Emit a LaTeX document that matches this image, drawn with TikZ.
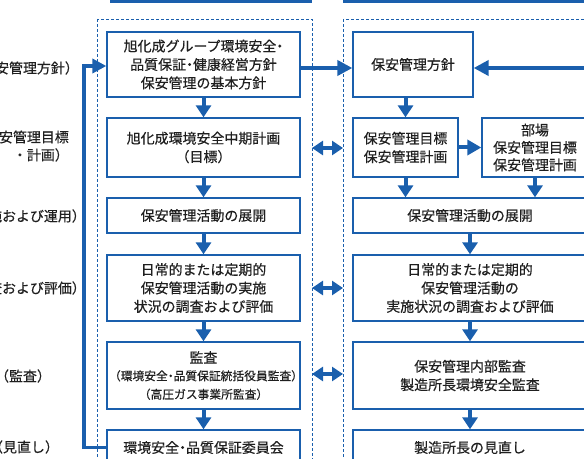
\documentclass[tikz,border=0pt]{standalone}
\usepackage{fontspec}
\newfontfamily\jp[FakeBold=0.4]{Noto Sans CJK JP}
\newfontfamily\jpp[FakeBold=0.4,RawFeature=+palt]{Noto Sans CJK JP}
\newcommand{\pdot}{{\jpp ・}}
\usetikzlibrary{arrows.meta}
\definecolor{bblue}{HTML}{1A5FAD}
\tikzset{
  box/.style={draw=bblue, line width=1.3bp, fill=white, align=center, inner sep=0pt,
    font=\jp\fontsize{14}{18.5}\selectfont, text=black!88},
  lbl/.style={inner sep=0pt, font=\jp\fontsize{14}{18.5}\selectfont, text=black!88},
  flow/.style={draw=bblue, line width=4bp, -{Triangle[length=12bp,width=15bp]}, shorten <=0.6bp},
  harrow/.style={draw=bblue, line width=4bp, -{Triangle[length=15bp,width=15bp]}},
  darrow/.style={draw=bblue, line width=4bp, {Triangle[length=11bp,width=14bp]}-{Triangle[length=11bp,width=14bp]}},
  col/.style={draw=bblue, line width=0.8bp, dash pattern=on 3bp off 2bp},
}
\begin{document}
\begin{tikzpicture}[x=1bp,y=-1bp]
\useasboundingbox (0,0) rectangle (584,459);
\clip (0,0) rectangle (584,459);
% header bars
\fill[bblue] (110,-2) rectangle (312,3);
\fill[bblue] (343,-2) rectangle (600,3);
% column outlines
\draw[col] (97,19) rectangle (312,480);
\draw[col] (343,19) rectangle (620,480);
% left labels
\node[lbl] (l1) at (23,68) {（保安管理方針）};
\node[lbl, align=right, anchor=east, font=\jp\fontsize{14}{18}\selectfont] (l2) at (69,146) {（保安管理目標\\・計画）};
\node[lbl] (l3) at (23,216) {（実施および運用）};
\node[lbl] (l4) at (23,288) {（調査および評価）};
\node[lbl] (l5) at (23,376) {（監査）};
\node[lbl] (l6) at (24,447) {（見直し）};
% left column boxes
\node[box, minimum width=193bp, minimum height=65bp] (b1) at (203.5,64.5) {旭化成グループ環境安全\pdot\\品質保証\pdot 健康経営方針\\保安管理の基本方針};
\node[box, minimum width=193bp, minimum height=59bp] (b2) at (203.5,147.5) {旭化成環境安全中期計画\\（目標）};
\node[box, minimum width=193bp, minimum height=35bp] (b3) at (203.5,215.5) {保安管理活動の展開};
\node[box, minimum width=193bp, minimum height=66bp] (b4) at (203.5,288) {日常的または定期的\\保安管理活動の実施\\状況の調査および評価};
\node[box, minimum width=193bp, minimum height=67bp, text width=189bp] (b5) at (203.5,375.5) {監査\\[1.5bp]\fontsize{11.8}{16}\selectfont （環境安全\pdot 品質保証統括役員監査）\\\fontsize{11.8}{16}\selectfont （高圧ガス事業所監査）};
\node[box, minimum width=193bp, minimum height=35bp] (b6) at (203.5,447.5) {環境安全\pdot 品質保証委員会};
% right column boxes
\node[box, minimum width=120bp, minimum height=65bp] (r1) at (413,64.5) {保安管理方針};
\node[box, minimum width=105bp, minimum height=59bp] (r2a) at (405.5,147.5) {保安管理目標\\保安管理計画};
\node[box, minimum width=106bp, minimum height=59bp, font=\jp\fontsize{14}{17.5}\selectfont] (r2b) at (535,147.5) {部場\\保安管理目標\\保安管理計画};
\node[box, minimum width=234bp, minimum height=35bp] (r3) at (470,215.5) {保安管理活動の展開};
\node[box, minimum width=234bp, minimum height=66bp] (r4) at (470,288) {日常的または定期的\\保安管理活動の\\実施状況の調査および評価};
\node[box, minimum width=234bp, minimum height=67bp] (r5) at (470,375.5) {保安管理内部監査\\製造所長環境安全監査};
\node[box, minimum width=234bp, minimum height=35bp] (r6) at (470,447.5) {製造所長の見直し};
% free ends
\coordinate (rin) at (590,68);
\coordinate (fbc) at (84,66);
\coordinate (d1l) at (312,148);
\coordinate (d1r) at (343,148);
\coordinate (d2l) at (312,288);
\coordinate (d2r) at (343,288);
\coordinate (d3l) at (312,374);
\coordinate (d3r) at (343,374);
% left flow arrows
\draw[flow] (b1.south) -- (b2.north);
\draw[flow] (b2.south) -- (b3.north);
\draw[flow] (b3.south) -- (b4.north);
\draw[flow] (b4.south) -- (b5.north);
\draw[flow] (b5.south) -- (b6.north);
% right flow arrows
\draw[flow] (r1.south -| r2a.north) -- (r2a.north);
\draw[flow] (r2a.south) -- (r2a.south |- r3.north);
\draw[flow] (r2b.south) -- (r2b.south |- r3.north);
\draw[flow] (r3.south) -- (r4.north);
\draw[flow] (r4.south) -- (r5.north);
\draw[flow] (r5.south) -- (r6.north);
\draw[draw=bblue, line width=4bp, -{Triangle[length=14bp,width=15bp]}] (r2a.east) -- (r2b.west);
% horizontal arrows
\draw[harrow] (b1.east |- rin) -- (r1.west |- rin);
\draw[harrow] (rin) -- (r1.east |- rin);
% feedback
\draw[draw=bblue, line width=3.5bp, -{Triangle[length=14bp,width=14bp]}] (b6.west) -| (fbc) -- (b1.west |- fbc);
% double arrows
\draw[darrow] (d1l) -- (d1r);
\draw[darrow] (d2l) -- (d2r);
\draw[darrow] (d3l) -- (d3r);
\end{tikzpicture}
\end{document}
